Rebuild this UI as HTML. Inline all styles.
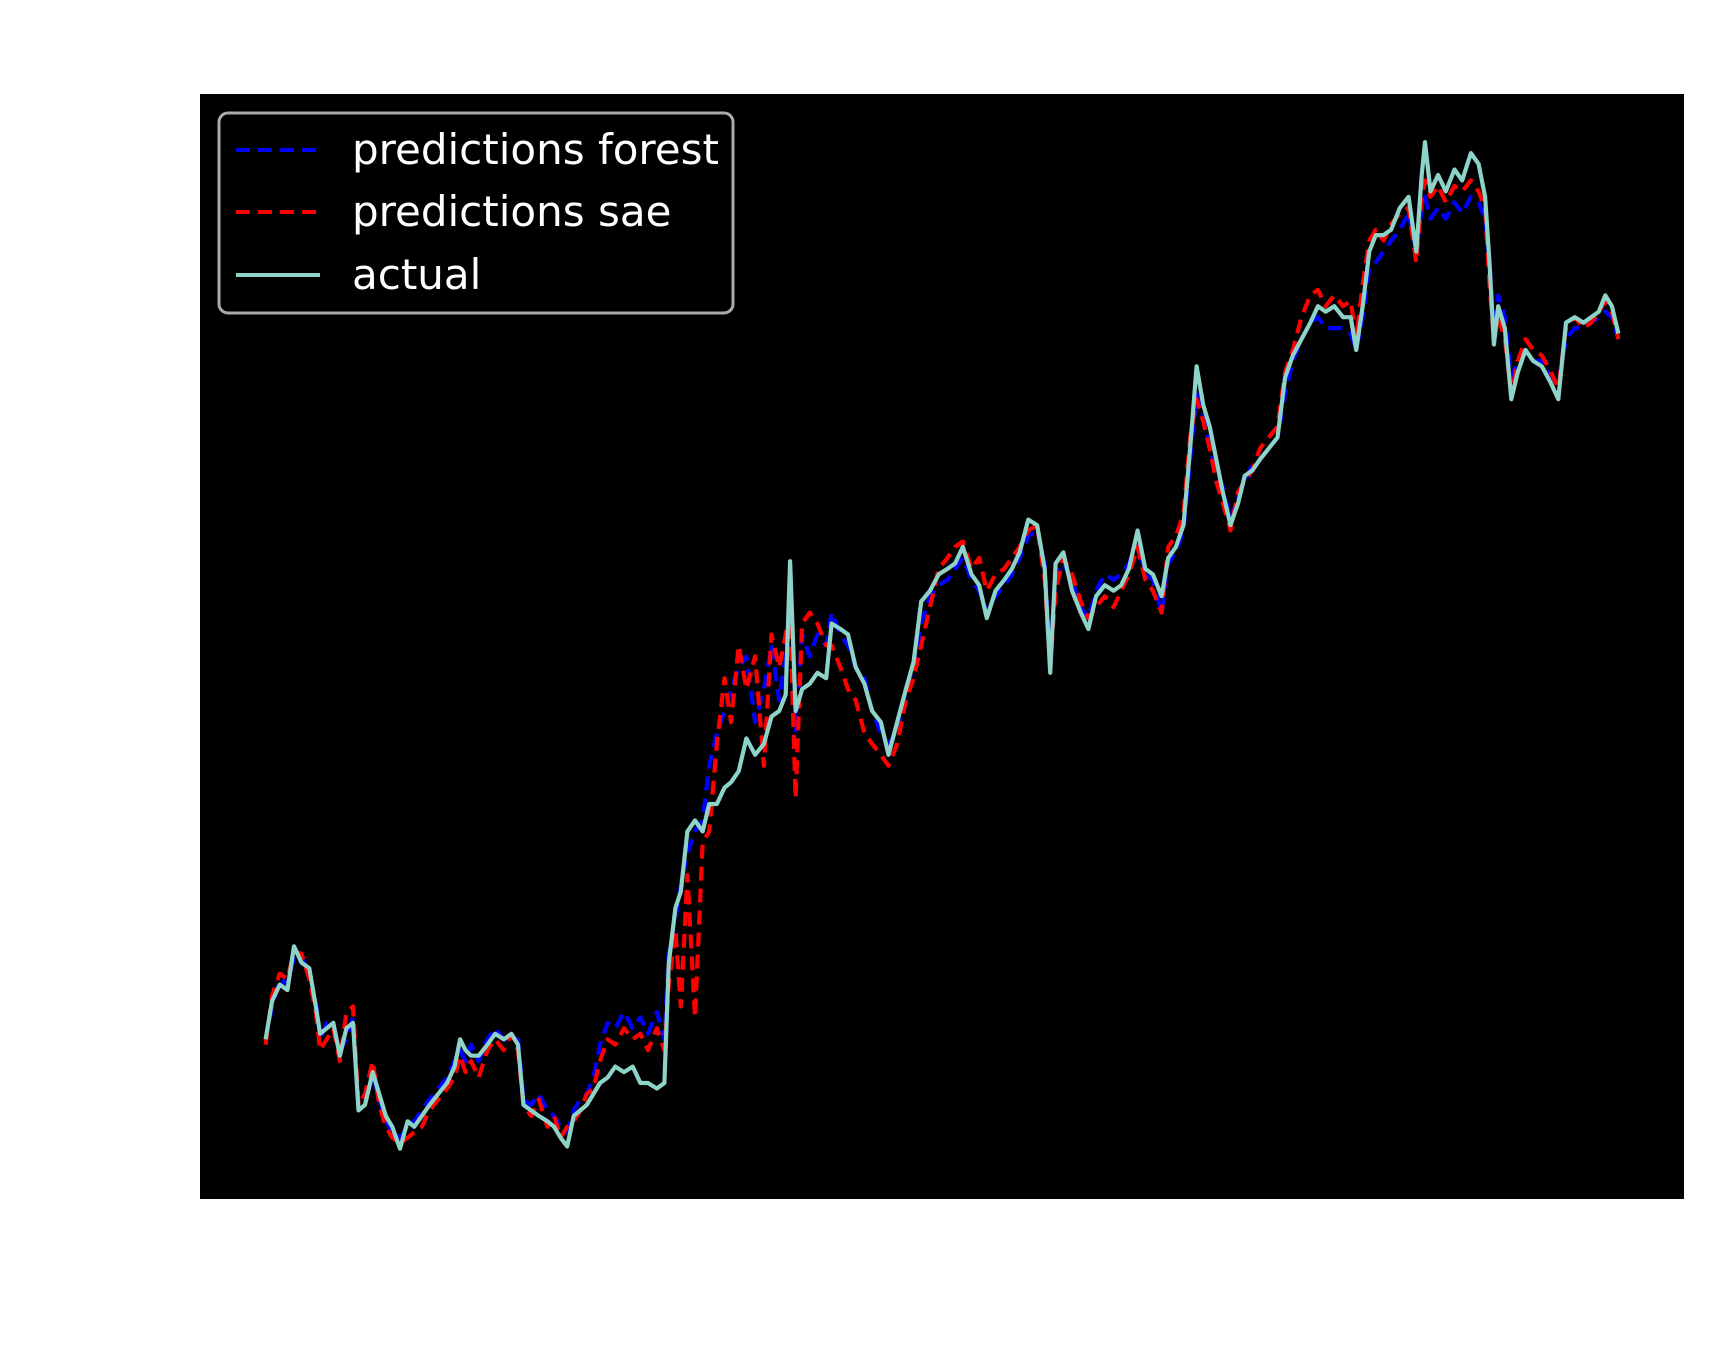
<!DOCTYPE html>
<html><head><meta charset="utf-8"><style>
html,body{margin:0;padding:0;background:#fff;}
svg{display:block;}
</style></head><body>
<svg id="chart" width="1715" height="1361" viewBox="0 0 1715 1361" xmlns="http://www.w3.org/2000/svg">
<rect x="200" y="94" width="1484" height="1105" fill="#000"/>
<g id="series"></g>
<g>
<rect x="219" y="113" width="514" height="200" rx="9" fill="#000" stroke="#aaa" stroke-width="3"/>
<line x1="236" y1="150" x2="320" y2="150" stroke="#0000ff" stroke-width="4" stroke-dasharray="14,8"/>
<text x="352" y="164" fill="#fff" font-family="DejaVu Sans, Liberation Sans, sans-serif" font-size="42">predictions forest</text>
<line x1="236" y1="212" x2="320" y2="212" stroke="#ff0000" stroke-width="4" stroke-dasharray="14,8"/>
<text x="352" y="226" fill="#fff" font-family="DejaVu Sans, Liberation Sans, sans-serif" font-size="42">predictions sae</text>
<line x1="236" y1="275" x2="320" y2="275" stroke="#8dd3c7" stroke-width="4"/>
<text x="352" y="289" fill="#fff" font-family="DejaVu Sans, Liberation Sans, sans-serif" font-size="42">actual</text>
</g>
</svg>
<script>
const times = [242,248,255,262,268,275,282,288,292,298,304,310,316,322,
327,333,340,346,352,358,365,372,378,385,392,400,408,415,420,425,430,437,445,452,460,467,473,
478,485,492,500,506,512,518,524,530,536,542,548,555,562,570,578,585,592,600,607,
611,617,622,628,635,642,648,655,662,668,675,682,690,698,705,712,718,
722,727,733,740,747,755,760,768,775,782,790,797,805,812,820,828,835,
842,850,858,866,873,880,888,895,902,910,918,925,932,940,948,955,960,965,972,980,988,995,1002,1010,1018,1025,1032,1040,1047,1054,1062,1068,1075,1082,
1088,1094,1100,1106,1112,1118,1125,1132,1138,1145,1152,1160,1168,1175,1182,1190,1198,1205,1212,1220,1228,1235,1240,1246,1252,1258,1265,1272,1280,1288,1295,1300,1303,1308,1315,1322,1330,1337,1345,1352,1358,1362,1366,1370,1376,1382,1388,1395,1402,1410,1418,1425,1432,1440,1448,1455,1462,1468,1474,1480];
const actual = [150,185,200,195,235,220,215,180,155,160,165,135,160,165,
85,90,120,100,80,70,50,75,70,80,90,100,110,125,150,140,135,135,145,155,150,155,145,
90,85,80,75,70,60,52,80,85,90,100,110,115,125,120,125,110,110,105,110,
220,270,285,340,350,340,365,365,380,385,395,425,410,420,445,450,465,
587,450,470,475,485,480,530,525,520,490,475,450,440,410,440,470,495,
550,560,575,580,585,600,575,565,535,560,570,580,595,625,620,580,485,585,595,560,540,525,555,565,560,565,580,615,580,575,555,590,600,620,
690,765,730,710,680,650,620,640,665,670,680,690,700,755,775,790,805,820,815,820,810,810,780,820,870,885,885,890,910,920,870,940,970,925,940,925,945,935,960,950,920,860,785,820,800,735,760,780,770,765,750,735,805,810,805,810,815,830,820,795];
const forest = [148,180,205,200,225,225,210,185,150,165,160,140,150,170,
90,95,115,95,75,65,60,70,75,85,95,105,115,130,140,130,145,130,150,160,150,150,150,
95,90,100,85,80,70,65,85,95,100,115,145,165,160,175,160,170,155,175,150,
230,260,290,320,340,350,400,430,450,470,490,500,440,470,510,460,500,
560,430,520,500,520,510,540,520,510,490,480,450,430,420,430,470,490,
530,555,565,570,580,590,570,560,540,555,565,575,590,610,615,585,500,575,585,570,545,535,560,575,570,575,585,605,575,570,540,585,595,615,
680,740,720,690,670,655,625,645,660,675,680,690,700,740,770,790,805,810,800,800,800,795,780,810,855,860,870,880,890,905,870,910,920,900,910,900,915,905,920,915,900,860,800,830,810,755,770,780,770,770,755,750,790,800,800,805,810,815,810,790];
const sae = [145,190,210,205,230,228,205,175,140,150,160,130,175,180,
90,100,130,90,70,60,55,60,65,70,85,95,105,115,135,120,130,115,140,150,140,155,140,
90,80,95,70,80,60,70,75,85,100,105,130,150,145,160,150,155,140,160,140,
200,250,180,300,170,330,340,420,480,440,510,470,500,400,520,490,520,
540,370,530,540,530,510,510,490,470,460,430,420,410,400,420,460,480,
510,545,580,590,600,605,580,590,560,575,580,590,600,615,620,570,490,560,590,575,550,535,545,555,545,560,575,600,570,560,540,600,610,630,
700,735,715,690,660,640,615,650,660,670,690,700,710,760,780,810,830,835,820,830,820,825,790,840,880,890,880,895,905,910,860,920,935,920,930,915,930,925,935,925,910,840,790,810,790,740,770,790,780,775,760,745,800,810,800,805,815,825,815,790];
const xDomain = [182, 1540];
const yDomain = [4, 1014];

const PX = [200, 1684], PY = [1199, 94];
function xScale(t){ return PX[0] + (t - xDomain[0]) / (xDomain[1] - xDomain[0]) * (PX[1] - PX[0]); }
function yScale(v){ return PY[0] + (v - yDomain[0]) / (yDomain[1] - yDomain[0]) * (PY[1] - PY[0]); }
const NS = 'http://www.w3.org/2000/svg';
const layer = document.getElementById('series');
function drawLine(vals, color, dash, name){
  const p = document.createElementNS(NS, 'path');
  let d = '';
  for (let i = 0; i < vals.length; i++){
    d += (i ? 'L' : 'M') + xScale(times[i]).toFixed(1) + ',' + yScale(vals[i]).toFixed(1);
  }
  p.setAttribute('d', d);
  p.setAttribute('fill', 'none');
  p.setAttribute('stroke', color);
  p.setAttribute('stroke-width', '4.2');
  p.setAttribute('stroke-linejoin', 'round');
  if (dash) p.setAttribute('stroke-dasharray', dash);
  
  
  layer.appendChild(p);
}
drawLine(forest, '#0000ff', '14,8', 'forest-prediction-line');
drawLine(sae, '#ff0000', '14,8', 'sae-prediction-line');
drawLine(actual, '#8dd3c7', null, 'actual-line');
</script>
</body></html>
